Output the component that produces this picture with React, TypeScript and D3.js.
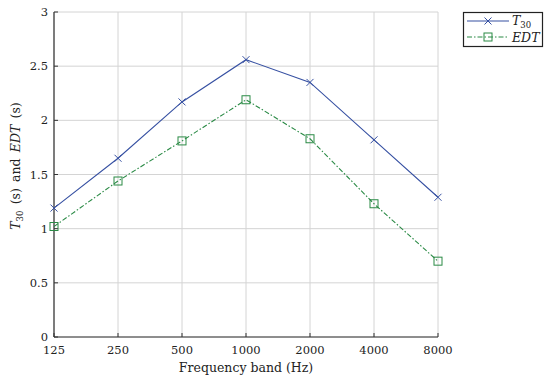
import React from "react";
import * as d3 from "d3";

const bands = ["125", "250", "500", "1000", "2000", "4000", "8000"];
const t30 = [1.19, 1.65, 2.17, 2.56, 2.35, 1.82, 1.29];
const edt = [1.02, 1.44, 1.81, 2.19, 1.83, 1.23, 0.7];
const yTicks = [0, 0.5, 1, 1.5, 2, 2.5, 3];

const BLUE = "#3650a2";
const GREEN = "#2a8a45";
const FONT = "DejaVu Serif, serif";

export default function App() {
  const W = 550, H = 384;
  const L = 54, R = 438, T = 12, B = 337;
  const x = d3.scalePoint<string>().domain(bands).range([L, R]);
  const y = d3.scaleLinear().domain([0, 3]).range([B, T]);
  const line = d3.line<number>().x((_, i) => x(bands[i])!).y((d) => y(d));

  const cross = (cx: number, cy: number, k: string) => (
    <path key={k} d={`M${cx - 3.5},${cy - 3.5}L${cx + 3.5},${cy + 3.5}M${cx - 3.5},${cy + 3.5}L${cx + 3.5},${cy - 3.5}`} stroke={BLUE} strokeWidth={1} fill="none" />
  );
  const square = (cx: number, cy: number, k: string) => (
    <rect key={k} x={cx - 4} y={cy - 4} width={8} height={8} stroke={GREEN} strokeWidth={1} fill="none" />
  );

  return (
    <svg width={W} height={H} style={{ position: "absolute", left: 0, top: 0, background: "#fff", fontFamily: FONT }}>
      <rect x={0} y={0} width={W} height={H} fill="#fff" />
      {yTicks.map((t) => (
        <line key={"gy" + t} x1={L} x2={R} y1={y(t)} y2={y(t)} stroke="#d4d4d4" strokeWidth={1} />
      ))}
      {bands.map((b) => (
        <line key={"gx" + b} x1={x(b)} x2={x(b)} y1={T} y2={B} stroke="#d4d4d4" strokeWidth={1} />
      ))}
      <line x1={L} x2={R} y1={B} y2={B} stroke="#333" strokeWidth={1.2} />
      <line x1={L} x2={L} y1={T} y2={B} stroke="#333" strokeWidth={1.2} />
      {yTicks.map((t) => (
        <g key={"ty" + t}>
          <line x1={L} x2={L + 4} y1={y(t)} y2={y(t)} stroke="#333" />
          <text x={L - 6} y={y(t)} dy="0.35em" textAnchor="end" fontSize={11.5} fill="#222">{t}</text>
        </g>
      ))}
      {bands.map((b) => (
        <g key={"tx" + b}>
          <line x1={x(b)} x2={x(b)} y1={B} y2={B - 4} stroke="#333" />
          <text x={x(b)} y={B + 17} textAnchor="middle" fontSize={11.5} fill="#222">{b}</text>
        </g>
      ))}
      <text x={(L + R) / 2} y={372} textAnchor="middle" fontSize={12.5} fill="#222">Frequency band (Hz)</text>
      <text transform={`translate(20,166) rotate(-90)`} textAnchor="middle" fontSize={12.5} fill="#222">
        <tspan fontStyle="italic">T</tspan>
        <tspan fontSize={8.5} dy={3}>30</tspan>
        <tspan dy={-3}>{"\u2002(s)\u2002and\u2002"}</tspan>
        <tspan fontStyle="italic">EDT</tspan>
        <tspan>{"\u2002(s)"}</tspan>
      </text>
      <path d={line(t30)!} fill="none" stroke={BLUE} strokeWidth={1.1} />
      <path d={line(edt)!} fill="none" stroke={GREEN} strokeWidth={1.1} strokeDasharray="5,2,1.5,2" />
      {t30.map((v, i) => cross(x(bands[i])!, y(v), "c" + i))}
      {edt.map((v, i) => square(x(bands[i])!, y(v), "s" + i))}
      <rect x={463.5} y={12.5} width={79} height={34} fill="#fff" stroke="#222" strokeWidth={1.2} />
      <line x1={467} x2={509} y1={21} y2={21} stroke={BLUE} strokeWidth={1.1} />
      {cross(488, 21, "lc")}
      <text x={512} y={25} fontSize={12.5} fill="#222">
        <tspan fontStyle="italic">T</tspan>
        <tspan fontSize={8.5} dy={3}>30</tspan>
      </text>
      <line x1={467} x2={509} y1={37} y2={37} stroke={GREEN} strokeWidth={1.1} strokeDasharray="5,2,1.5,2" />
      {square(488, 37, "ls")}
      <text x={512} y={41.5} fontSize={12.5} fontStyle="italic" fill="#222">EDT</text>
    </svg>
  );
}
